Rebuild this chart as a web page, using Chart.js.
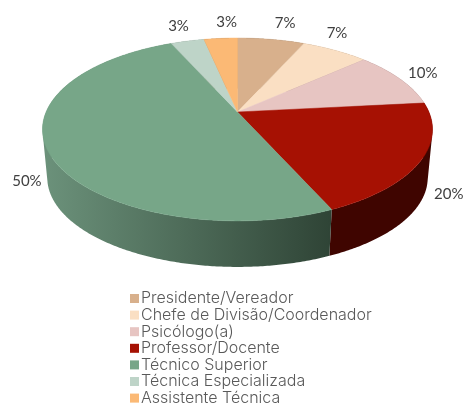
<!DOCTYPE html>
<html>
<head>
<meta charset="utf-8">
<script src="https://cdn.jsdelivr.net/npm/chart.js@4/dist/chart.umd.min.js"></script>
<style>
  html, body { margin: 0; padding: 0; background: #fff; }
  canvas { display: block; }
</style>
</head>
<body>
<canvas id="pie-chart" width="465" height="406"></canvas>
<script>
const categories = [
  "Presidente/Vereador",
  "Chefe de Divisão/Coordenador",
  "Psicólogo(a)",
  "Professor/Docente",
  "Técnico Superior",
  "Técnica Especializada",
  "Assistente Técnica",
];
const shares = [6.67, 6.67, 10, 20, 50, 3.33, 3.33];
const topColors = ["#d8b08c", "#fadfc3", "#e7c5c2", "#a61103", "#77a688", "#bed4c8", "#fbb975"];
const sideColors = ["#6c5846", "#7d6f61", "#736261", "#3f0500", null, "#5f6a64", "#7d5c3a"];

// chart.js pie has no 3d mode, so the arcs it works out get projected by hand
const cx = 237.5;
const depth = 0.0245;
const vanishY = 2100;

function project(angle) {
  const u = Math.cos(angle);
  const v = Math.sin(angle);
  const w = 1 - 0.191 * v;
  return { x: cx + (191.4 * u) / w, y: (66.7 * v + 112) / w };
}

function lower(p) {
  return { x: cx + (p.x - cx) * (1 - depth), y: p.y + depth * (vanishY - p.y) };
}

function arcPoints(start, end) {
  const steps = Math.max(2, Math.ceil((end - start) / 0.01));
  const points = [];
  for (let i = 0; i <= steps; i++) {
    points.push(project(start + ((end - start) * i) / steps));
  }
  return points;
}

function addShape(ctx, points) {
  points.forEach((p, i) => {
    if (i === 0) ctx.moveTo(p.x, p.y);
    else ctx.lineTo(p.x, p.y);
  });
  ctx.closePath();
}

// quads flip direction past the left and right edge, keep them all one way
// or nonzero fill leaves holes where they overlap
function sameWinding(q) {
  let area = 0;
  q.forEach((p, i) => {
    const next = q[(i + 1) % q.length];
    area += p.x * next.y - next.x * p.y;
  });
  return area < 0 ? q.slice().reverse() : q;
}

// moves each percent label off the rim of its slice
const labelNudge = [
  [14, -16], [2, -17], [23, -6], [28, 33], [-21, 30], [-9, -15], [6, -16],
];

const pie3d = {
  id: "pie3d",
  beforeDatasetsDraw(chart) {
    const ctx = chart.ctx;
    const arcs = chart.getDatasetMeta(0).data;

    const gradient = ctx.createLinearGradient(46, 0, 330, 0);
    gradient.addColorStop(0, "#6b917a");
    gradient.addColorStop(1, "#2f4436");

    ctx.save();
    // sides first, the top faces cover whatever is at the back
    arcs.forEach((arc, i) => {
      const rim = arcPoints(arc.startAngle, arc.endAngle);
      ctx.beginPath();
      for (let k = 0; k < rim.length - 1; k++) {
        addShape(ctx, sameWinding([rim[k], rim[k + 1], lower(rim[k + 1]), lower(rim[k])]));
      }
      ctx.fillStyle = sideColors[i] || gradient;
      ctx.fill();
    });

    const apex = { x: cx, y: 112 };
    arcs.forEach((arc, i) => {
      ctx.beginPath();
      addShape(ctx, [apex].concat(arcPoints(arc.startAngle, arc.endAngle)));
      ctx.fillStyle = topColors[i];
      ctx.strokeStyle = topColors[i];
      ctx.lineWidth = 0.5;
      ctx.fill();
      ctx.stroke();
    });

    ctx.fillStyle = "#404040";
    ctx.font = "15px Lato";
    ctx.textAlign = "center";
    ctx.textBaseline = "middle";
    arcs.forEach((arc, i) => {
      const rim = project((arc.startAngle + arc.endAngle) / 2);
      ctx.fillText(
        Math.round(shares[i]) + "%",
        rim.x + labelNudge[i][0],
        rim.y + labelNudge[i][1]
      );
    });
    ctx.restore();
    return false;
  },
  afterDraw(chart) {
    const ctx = chart.ctx;
    ctx.save();
    ctx.font = "300 16px Inter";
    ctx.textAlign = "left";
    ctx.textBaseline = "middle";
    categories.forEach((name, i) => {
      const y = 298.5 + i * 16.6;
      ctx.fillStyle = topColors[i];
      ctx.fillRect(130, y - 4.5, 9, 9);
      ctx.fillStyle = "#595959";
      ctx.fillText(name, 141, y);
    });
    ctx.restore();
  },
};

new Chart(document.querySelector("#pie-chart").getContext("2d"), {
  type: "pie",
  data: {
    labels: categories,
    datasets: [{ data: shares, backgroundColor: topColors, borderWidth: 0 }],
  },
  options: {
    responsive: false,
    animation: false,
    plugins: {
      legend: { display: false },
      tooltip: { enabled: false },
    },
  },
  plugins: [pie3d],
});
</script>
</body>
</html>
